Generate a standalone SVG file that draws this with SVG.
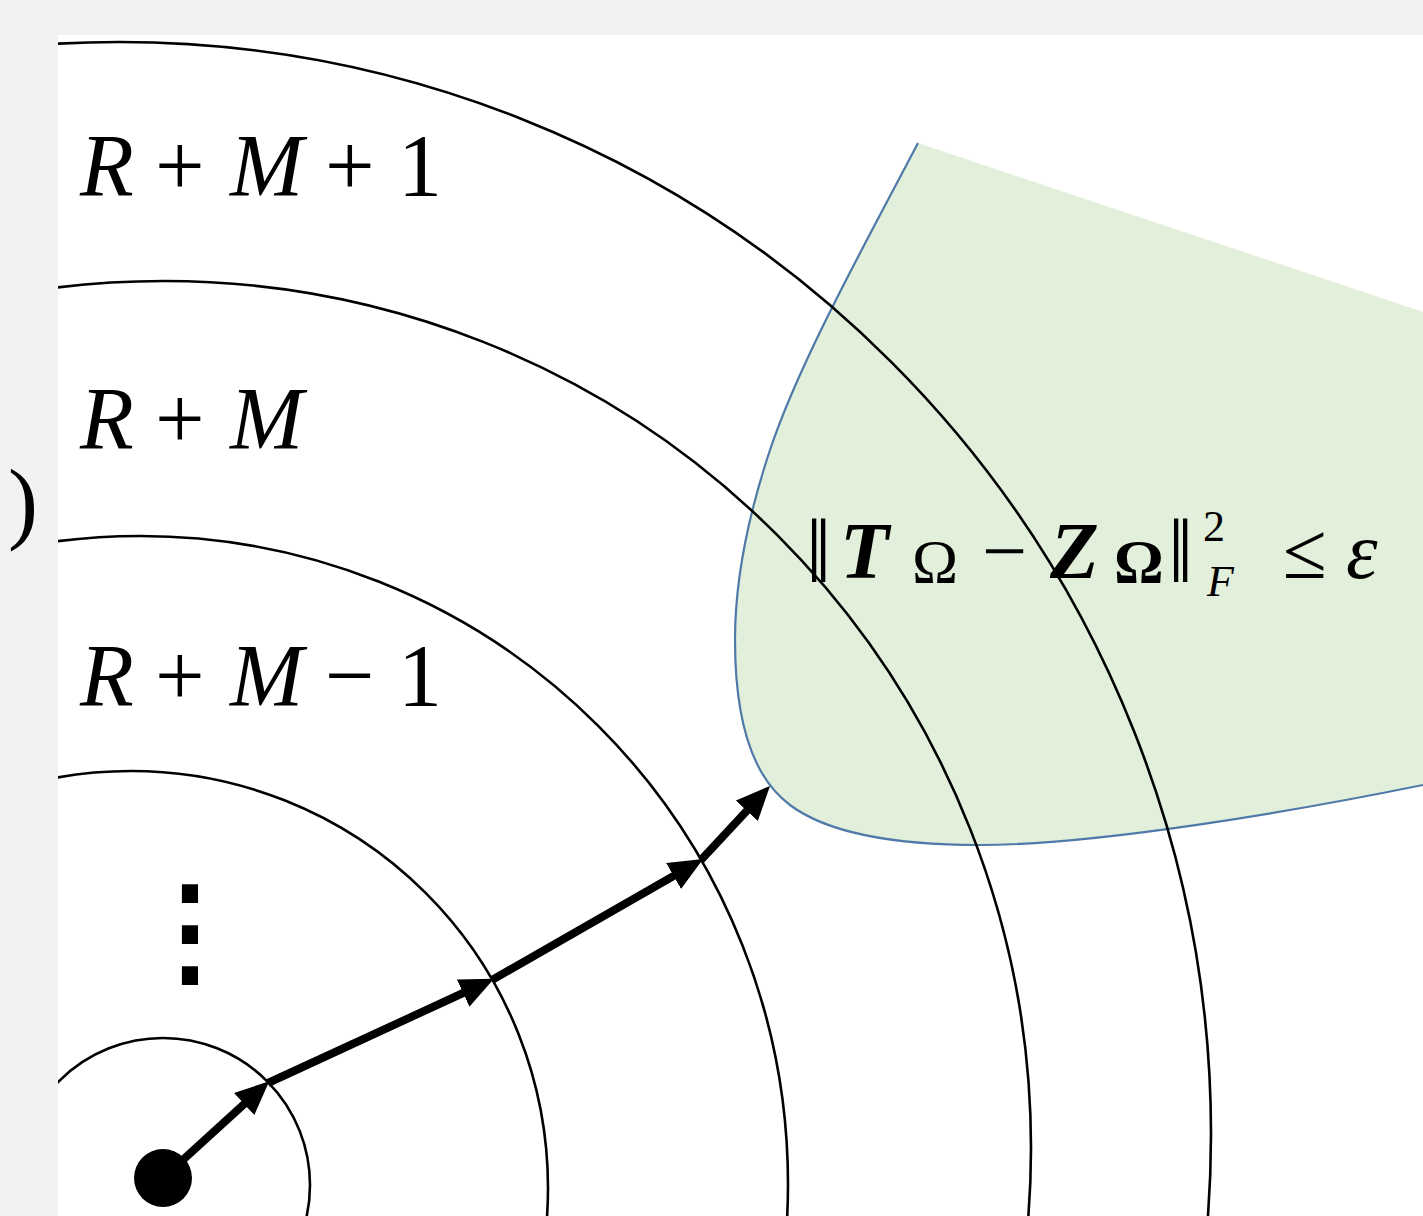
<svg xmlns="http://www.w3.org/2000/svg" width="1423" height="1216" viewBox="0 0 1423 1216">
<style>
.ring{fill:none;stroke:#000;stroke-width:2.6}
.lbl{font-family:"Liberation Serif",serif;font-size:88px;fill:#000}
.it{font-style:italic}
.fm{font-family:"Liberation Serif","DejaVu Serif",serif;fill:#000}
.arr{stroke:#000;stroke-width:8;fill:none;marker-end:url(#ah)}
</style>
<defs>
<clipPath id="panel"><rect x="58" y="35" width="1365" height="1181"/></clipPath>
<marker id="ah" markerUnits="userSpaceOnUse" viewBox="0 0 34 30" refX="12" refY="15" markerWidth="34" markerHeight="30" orient="auto">
<path d="M0,0 L34,15 L0,30 z" fill="#000"/>
</marker>
</defs>
<rect x="0" y="0" width="1423" height="1216" fill="#f2f2f2"/>
<rect x="58" y="35" width="1365" height="1181" fill="#fff"/>
<text x="8" y="532" font-family="Liberation Serif, serif" font-size="90" fill="#000">)</text>
<g id="region" clip-path="url(#panel)">
<path d="M918,143 L1423,312 L1423,785 C1300,810 1100,845 980,845 C900,845 830,835 790,805 C752,777 735,720 735,640 C735,590 745,525 770,450 C800,360 870,235 918,143 Z" fill="#e2efda"/>
<path d="M918,143 C870,235 800,360 770,450 C745,525 735,590 735,640 C735,720 752,777 790,805 C830,835 900,845 980,845 C1100,845 1300,810 1423,785" fill="none" stroke="#4f79a8" stroke-width="2.2"/>
</g>
<g id="rings" clip-path="url(#panel)">
<circle id="ring1" class="ring" cx="163" cy="1185" r="147"/>
<circle id="ring2" class="ring" cx="131" cy="1188" r="417"/>
<circle id="ring3" class="ring" cx="140" cy="1184" r="648"/>
<circle id="ring4" class="ring" cx="164" cy="1148" r="867"/>
<circle id="ring5" class="ring" cx="119" cy="1134" r="1092"/>
</g>
<g id="labels">
<text class="lbl" y="195"><tspan class="it" x="80">R</tspan><tspan x="155">+</tspan><tspan class="it" x="230">M</tspan><tspan x="325">+</tspan><tspan x="398">1</tspan></text>
<text class="lbl" y="448"><tspan class="it" x="80">R</tspan><tspan x="155">+</tspan><tspan class="it" x="230">M</tspan></text>
<text class="lbl" y="705"><tspan class="it" x="80">R</tspan><tspan x="155">+</tspan><tspan class="it" x="230">M</tspan><tspan x="325">−</tspan><tspan x="398">1</tspan></text>
<text x="190" y="972" text-anchor="middle" font-family="DejaVu Serif, serif" font-size="120" font-weight="bold" fill="#000">⋮</text>
</g>
<g id="formula">
<text class="fm" font-size="90" x="806" y="582">‖</text>
<text class="fm" font-size="80" font-weight="bold" font-style="italic" x="840" y="578">T</text>
<text class="fm" font-size="62" x="912" y="582">Ω</text>
<text class="fm" font-size="80" x="982" y="578">−</text>
<text class="fm" font-size="80" font-weight="bold" font-style="italic" x="1050" y="578">Z</text>
<text class="fm" font-size="62" font-weight="bold" x="1114" y="582">Ω</text>
<text class="fm" font-size="90" x="1168" y="582">‖</text>
<text class="fm" font-size="44" x="1203" y="541">2</text>
<text class="fm" font-size="44" font-style="italic" x="1207" y="596">F</text>
<text class="fm" font-size="80" x="1283" y="578">≤</text>
<text class="fm" font-size="80" font-style="italic" x="1346" y="578">ε</text>
</g>
<g id="connectors">
<line class="arr" x1="163" y1="1178" x2="253" y2="1096"/>
<line class="arr" x1="268" y1="1083" x2="474" y2="988"/>
<line class="arr" x1="492" y1="980" x2="684" y2="870"/>
<line class="arr" x1="701" y1="860" x2="755" y2="802"/>
</g>
<g id="start"><circle cx="163" cy="1178" r="29" fill="#000"/></g>
</svg>
